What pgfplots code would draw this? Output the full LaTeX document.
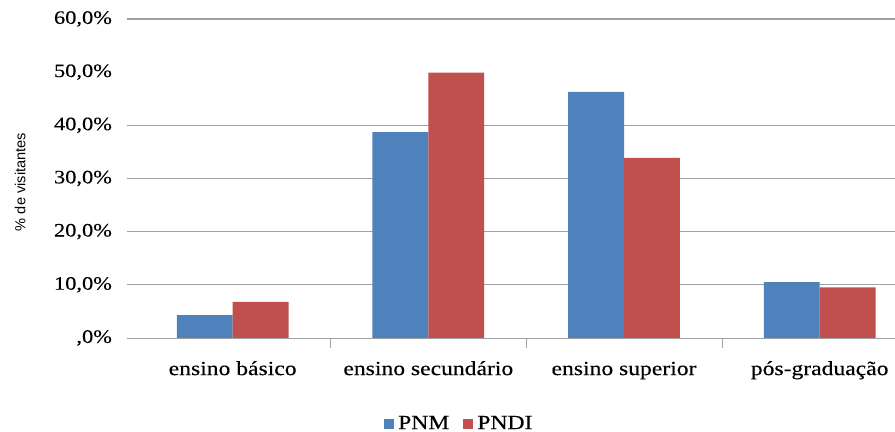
\documentclass[border=0pt]{standalone}
\usepackage{fontspec}
\setmainfont{Liberation Serif}[FakeStretch=1.18, FakeBold=0.3]
\newfontfamily\labelfont{Liberation Sans}
\usepackage{pgfplots}
\pgfplotsset{compat=1.18}

\definecolor{pnm}{RGB}{79,129,189}
\definecolor{pndi}{RGB}{192,80,77}
\definecolor{gridgray}{RGB}{160,160,160}

\begin{document}
\begin{tikzpicture}
\begin{axis}[
    name=ax,
    scale only axis,
    width=384pt,
    height=159.5pt,
    ybar=0pt,
    bar width=0.2857,
    xmin=-0.54, xmax=3.385,
    ymin=0, ymax=60,
    axis x line=bottom,
    axis y line=left,
    x axis line style={gridgray, -},
    y axis line style={draw=none},
    tick align=outside,
    major tick length=0pt,
    minor tick length=5pt,
    xtick={0,1,2,3},
    xticklabels={ensino básico, ensino secundário, ensino superior, pós-graduação},
    minor xtick={0.5,1.5,2.5},
    minor x tick style={draw=gridgray},
    xticklabel style={font=\fontsize{10}{12}\selectfont, text height=7pt, text depth=2pt, yshift=-8pt},
    ytick={0,10,20,30,40,50,60},
    yticklabels={{,0\%},{10,0\%},{20,0\%},{30,0\%},{40,0\%},{50,0\%},{60,0\%}},
    ytick style={draw=none},
    yticklabel style={font=\fontsize{9.5}{11}\selectfont, xshift=-4pt},
    extra y ticks={10,20,30,40,60},
    extra y tick labels={},
    extra y tick style={grid=major, major grid style={gridgray, line width=0.6pt}},
    /pgf/number format/assume math mode=true,
    ylabel={\% de visitantes},
    ylabel style={font=\labelfont\fontsize{7.3}{8}\selectfont, at={(axis description cs:-0.139,0.489)}, anchor=center},
    legend style={draw=none, at={(rel axis cs:0.434,0)}, anchor=center, yshift=-43pt,
        font=\fontsize{10}{12}\selectfont, legend columns=2,
        /tikz/every even column/.append style={column sep=5pt}},
    legend image code/.code={\fill[#1] (0pt,-2.5pt) rectangle (5pt,2.5pt);},
]
\addplot[fill=pnm, draw=none] coordinates {(0,4.3) (1,38.7) (2,46.3) (3,10.5)};
\addlegendentry{PNM}
\addplot[fill=pndi, draw=none] coordinates {(0,6.8) (1,49.9) (2,33.9) (3,9.5)};
\addlegendentry{PNDI}
\end{axis}
\pgfresetboundingbox
\path[use as bounding box] ([shift={(-63.5pt,-47pt)}]ax.south west) rectangle ([shift={(0pt,9.5pt)}]ax.north east);
\end{tikzpicture}
\end{document}
